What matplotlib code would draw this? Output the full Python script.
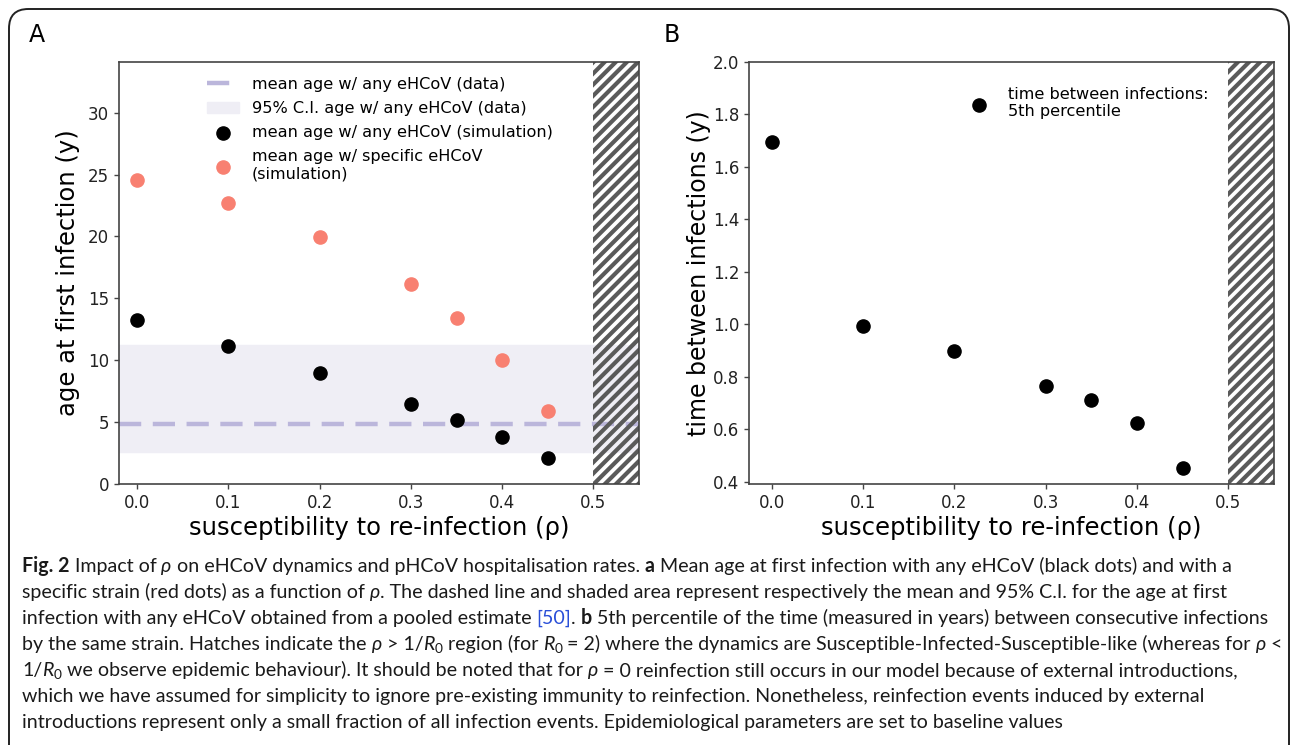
import matplotlib
matplotlib.use("Agg")
import matplotlib.pyplot as plt
from matplotlib.patches import FancyBboxPatch, Rectangle

# ---------------- data ----------------
rho = [0.0, 0.1, 0.2, 0.3, 0.35, 0.4, 0.45]
age_any_sim = [13.25, 11.15, 8.95, 6.45, 5.2, 3.8, 2.1]
age_specific_sim = [24.55, 22.7, 19.95, 16.15, 13.4, 10.05, 5.9]
age_data_mean = 4.85
age_data_ci = [2.6, 11.25]
time_between_5th = [1.695, 0.995, 0.90, 0.765, 0.712, 0.623, 0.452]
rho_threshold = 0.5
xticks = [0.0, 0.1, 0.2, 0.3, 0.4, 0.5]

W, H = 1292, 745
fig = plt.figure(figsize=(W / 100, H / 100), dpi=100)

def ax_rect(l, t, r, b):
    return [l / W, 1 - b / H, (r - l) / W, (b - t) / H]

spine_col = "#444444"
hatch_col = "#5a5a5a"
plt.rcParams['hatch.linewidth'] = 3.0
plt.rcParams['hatch.color'] = hatch_col

def style(ax):
    for s in ax.spines.values():
        s.set_color(spine_col)
        s.set_linewidth(1.2)
    ax.tick_params(colors="#222222", labelsize=12, length=3.5, width=1.0, pad=3.5)
    ax.tick_params(axis='both', color=spine_col)

# ---------------- panel A ----------------
axA = fig.add_axes(ax_rect(119, 62, 639, 484))
axA.axhspan(age_data_ci[0], age_data_ci[1], color="#efeef5", zorder=0,
            label="95% C.I. age w/ any eHCoV (data)")
axA.axhline(age_data_mean, color="#bbb6db", lw=3.2, dashes=(5, 2.6), zorder=1,
            label="mean age w/ any eHCoV (data)")
axA.scatter(rho, age_any_sim, s=90, color="black", zorder=3,
            label="mean age w/ any eHCoV (simulation)")
axA.scatter(rho, age_specific_sim, s=90, color="#f88071", zorder=3,
            label="mean age w/ specific eHCoV\n(simulation)")
axA.add_patch(Rectangle((rho_threshold, -10), 0.1, 100, facecolor="none",
                        edgecolor=hatch_col, hatch="///", lw=0, zorder=2))
axA.set_xlim(-0.02, 0.55)
axA.set_ylim(0, 34.1)
axA.set_xticks(xticks)
axA.set_yticks([0, 5, 10, 15, 20, 25, 30])
axA.set_xlabel("susceptibility to re-infection (ρ)", fontsize=17.5, labelpad=3)
axA.set_ylabel("age at first infection (y)", fontsize=17.5, labelpad=6)
style(axA)
h, l = axA.get_legend_handles_labels()
order = [1, 0, 2, 3]
axA.legend([h[i] for i in order], [l[i] for i in order], loc="upper left",
           bbox_to_anchor=((207 - 119) / 520, 1 - (77 - 62) / 422),
           frameon=False, fontsize=11.6, borderpad=0, borderaxespad=0,
           labelspacing=0.56)

# ---------------- panel B ----------------
axB = fig.add_axes(ax_rect(749, 62, 1274, 484))
axB.scatter(rho, time_between_5th, s=90, color="black", zorder=3,
            label="time between infections:\n5th percentile")
axB.add_patch(Rectangle((rho_threshold, 0), 0.1, 100, facecolor="none",
                        edgecolor=hatch_col, hatch="///", lw=0, zorder=2))
axB.set_xlim(-0.025, 0.55)
axB.set_ylim(0.392, 2.0)
axB.set_xticks(xticks)
axB.set_yticks([0.4, 0.6, 0.8, 1.0, 1.2, 1.4, 1.6, 1.8, 2.0])
axB.set_xlabel("susceptibility to re-infection (ρ)", fontsize=17.5, labelpad=3)
axB.set_ylabel("time between infections (y)", fontsize=17, labelpad=1.5)
style(axB)
axB.legend(loc="upper left",
           bbox_to_anchor=((963 - 749) / 525, 1 - (87 - 62) / 422),
           frameon=False, fontsize=11.6, borderpad=0, borderaxespad=0)

fig.text(29 / W, 1 - 35 / H, "A", fontsize=17, va="center", ha="left")
fig.text(664 / W, 1 - 35 / H, "B", fontsize=17, va="center", ha="left")

# ---------------- outer box ----------------
box = FancyBboxPatch((9 / W, -20 / H), (1289 - 9) / W, (H - 9 + 20) / H,
                     boxstyle="round,pad=0,rounding_size=0.015",
                     transform=fig.transFigure, facecolor="none",
                     edgecolor="#222222", lw=1.4, mutation_aspect=W / H)
fig.patches.append(box)

# ---------------- caption ----------------
cap_font = "Lato"
link_col = "#2a4fd8"
lines = [
    [("Fig. 2", "b"), (" Impact of ", "n"), ("ρ", "i"),
     (" on eHCoV dynamics and pHCoV hospitalisation rates. ", "n"), ("a", "b"),
     (" Mean age at first infection with any eHCoV (black dots) and with a", "n")],
    [("specific strain (red dots) as a function of ", "n"), ("ρ", "i"),
     (". The dashed line and shaded area represent respectively the mean and 95% C.I. for the age at first", "n")],
    [("infection with any eHCoV obtained from a pooled estimate ", "n"), ("[50]", "link"),
     (". ", "n"), ("b", "b"),
     (" 5th percentile of the time (measured in years) between consecutive infections", "n")],
    [("by the same strain. Hatches indicate the ", "n"), ("ρ", "i"), (" > 1/", "n"),
     ("R", "i"), ("0", "sub"), (" region (for ", "n"), ("R", "i"), ("0", "sub"),
     (" = 2) where the dynamics are Susceptible-Infected-Susceptible-like (whereas for ", "n"),
     ("ρ", "i"), (" <", "n")],
    [("1/", "n"), ("R", "i"), ("0", "sub"),
     (" we observe epidemic behaviour). It should be noted that for ", "n"), ("ρ", "i"),
     (" = 0 reinfection still occurs in our model because of external introductions,", "n")],
    [("which we have assumed for simplicity to ignore pre-existing immunity to reinfection. Nonetheless, reinfection events induced by external", "n")],
    [("introductions represent only a small fraction of all infection events. Epidemiological parameters are set to baseline values", "n")],
]

renderer = fig.canvas.get_renderer()

def draw_line(segs, x0, ybase, size, draw=True):
    x = x0
    made = []
    for txt, st in segs:
        kw = dict(fontsize=size, family=[cap_font, "DejaVu Sans"], color="#1a1a1a",
                  va="baseline", ha="left")
        y = ybase
        if st == "b":
            kw["fontweight"] = "bold"
        elif st == "i":
            kw["style"] = "italic"
        elif st == "link":
            kw["color"] = link_col
        elif st == "sub":
            kw["fontsize"] = size * 0.7
            y = ybase + 3
        t = fig.text(x / W, 1 - y / H, txt, **kw)
        bb = t.get_window_extent(renderer)
        x += bb.width
        made.append(t)
    if not draw:
        for t in made:
            t.remove()
    return x - x0

# scale font so the longest line fits its width in the reference
test_size = 14
w = draw_line(lines[2], 22, 600, test_size, draw=False)
size = test_size * (1272 - 22) / w
baselines = [572, 598, 624, 650, 676, 702, 728]
for segs, yb in zip(lines, baselines):
    draw_line(segs, 22, yb, size)

fig.savefig("out.png", dpi=100)
